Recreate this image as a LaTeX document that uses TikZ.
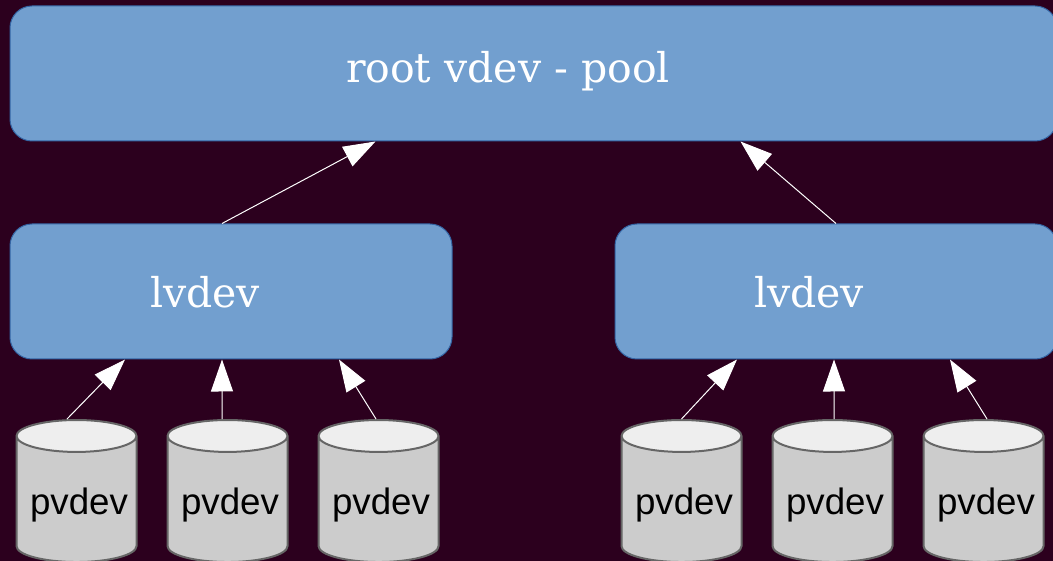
\documentclass[tikz,border=0pt]{standalone}
\usepackage{fontspec}
\setmainfont{DejaVu Serif}
\newfontfamily\pvfont{Liberation Sans}
\usetikzlibrary{positioning,arrows.meta,shapes.geometric}
\definecolor{pageback}{HTML}{2C001E}
\definecolor{boxfill}{HTML}{729FCF}
\definecolor{boxline}{HTML}{3465A4}
\definecolor{diskbody}{HTML}{CCCCCC}
\definecolor{disktop}{HTML}{EEEEEE}
\definecolor{diskline}{HTML}{666666}

\begin{document}
\begin{tikzpicture}[
    x=1pt, y=-1pt,
    vbox/.style={rectangle, draw=boxline, fill=boxfill, line width=1pt, rounded corners=22pt, minimum height=135pt},
    vtext/.style={text=white, font=\fontsize{41}{41}\selectfont},
    disk/.style={cylinder, shape border rotate=90, draw=diskline, line width=2pt, aspect=0.31, minimum width=120pt, minimum height=142pt,
        cylinder uses custom fill, cylinder body fill=diskbody, cylinder end fill=disktop, inner sep=0pt,
        text=black, text height=36.7pt, text depth=7.7pt, font=\pvfont\fontsize{36.7}{36.7}\selectfont},
    arrow/.style={-{Triangle[length=32pt,width=22pt,fill=white]}, white, line width=1pt}
]
    \fill[pageback, use as bounding box] (0,0) rectangle (1053,561);
    \clip (0,0) rectangle (1053,561);

    \node[vbox, minimum width=1047pt] (root) at (533.5,73.5) {};
    \node[vbox, minimum width=442pt] (lvleft) at (231,291.5) {};
    \node[vbox, minimum width=442pt, right=162pt of lvleft] (lvright) {};

    \node[vtext] (roottext) at (508,71) {root vdev - pool};
    \node[vtext] (lvlefttext) at (205,292) {lvdev};
    \node[vtext] (lvrighttext) at (809,292) {lvdev};

    \node[disk] (pvA) at (76.5,499.5) {\hspace*{5pt}pvdev};
    \node[disk, right=29pt of pvA] (pvB) {\hspace*{5pt}pvdev};
    \node[disk, right=29pt of pvB] (pvC) {\hspace*{5pt}pvdev};
    \node[disk] (pvD) at (681.5,499.5) {\hspace*{5pt}pvdev};
    \node[disk, right=29pt of pvD] (pvE) {\hspace*{5pt}pvdev};
    \node[disk, right=29pt of pvE] (pvF) {\hspace*{5pt}pvdev};

    \draw[arrow] ([xshift=-9pt]lvleft.north) -- ([xshift=-158pt]root.south);
    \draw[arrow] (lvright.north) -- ([xshift=207pt]root.south);

    \draw[arrow] ([xshift=-9.5pt]pvA.north) -- ([xshift=-106pt]lvleft.south);
    \draw[arrow] ([xshift=-5.5pt]pvB.north) -- ([xshift=-9pt]lvleft.south);
    \draw[arrow] ([xshift=-2.5pt]pvC.north) -- ([xshift=108pt]lvleft.south);
    \draw[arrow] (pvD.north) -- ([xshift=-99pt]lvright.south);
    \draw[arrow] ([xshift=1.5pt]pvE.north) -- ([xshift=-2pt]lvright.south);
    \draw[arrow] ([xshift=3.5pt]pvF.north) -- ([xshift=114pt]lvright.south);
\end{tikzpicture}
\end{document}
